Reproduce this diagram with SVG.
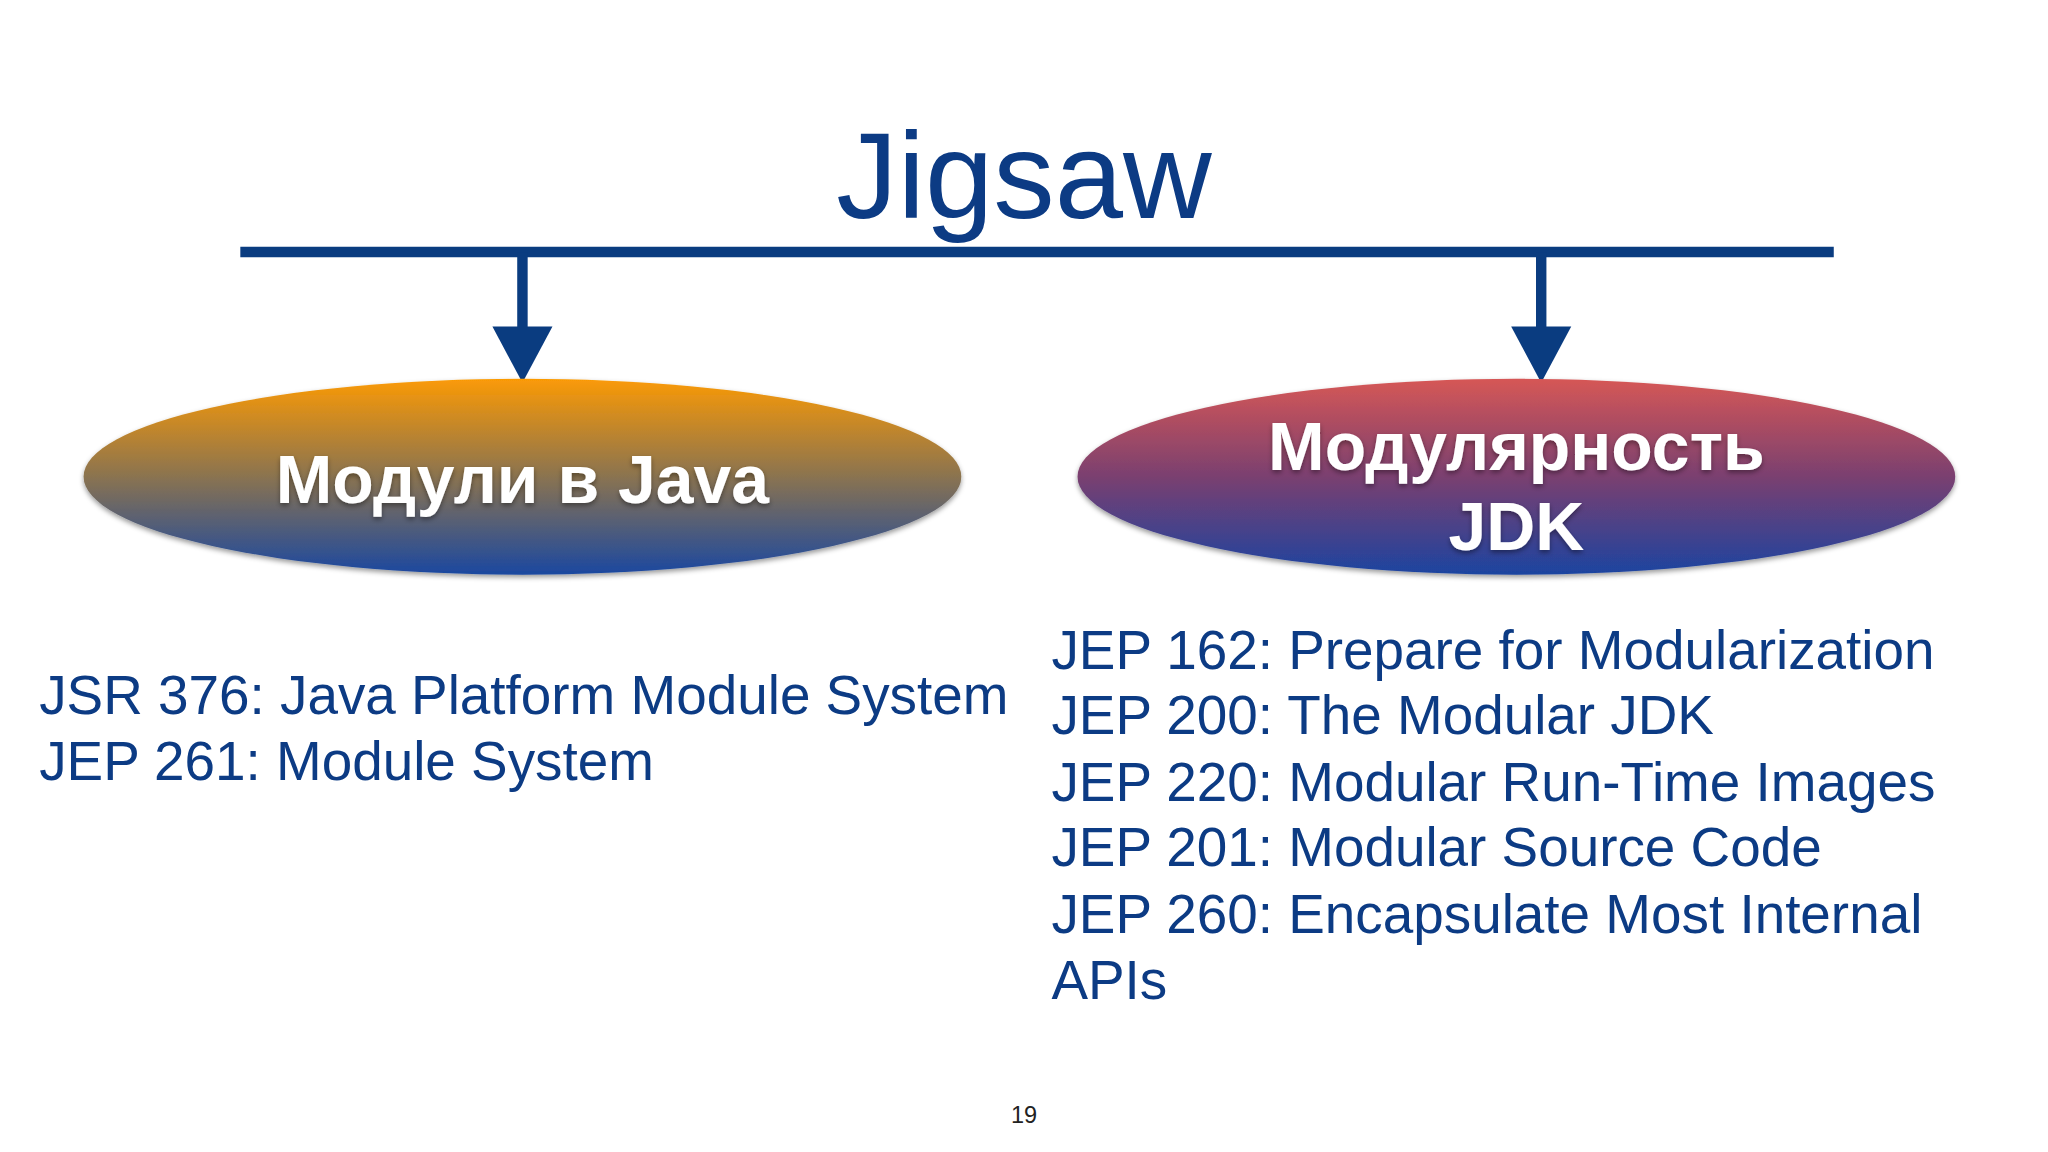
<svg xmlns="http://www.w3.org/2000/svg" width="2048" height="1152" viewBox="0 0 2048 1152">
<defs>
<linearGradient id="gL" x1="0" y1="0" x2="0" y2="1"><stop offset="0" stop-color="#fb9a05"/><stop offset="0.5" stop-color="#8a7350"/><stop offset="1" stop-color="#1b48a0"/></linearGradient>
<linearGradient id="gR" x1="0" y1="0" x2="0" y2="1"><stop offset="0" stop-color="#d65756"/><stop offset="0.5" stop-color="#7a4070"/><stop offset="1" stop-color="#1c44a0"/></linearGradient>
<filter id="sh" x="-10%" y="-10%" width="120%" height="130%"><feDropShadow dx="0" dy="2" stdDeviation="2" flood-color="#000" flood-opacity="0.4"/></filter>
<style>
.t{font-family:"Helvetica Neue","Liberation Sans",Arial,sans-serif;fill:#0c3b84;font-size:42px}
.n{font-family:"Liberation Sans",Arial,sans-serif;font-weight:bold;fill:#fff;font-size:52px;text-anchor:middle}
.ln{stroke:#0a3c80;stroke-width:8;fill:none}
</style>
</defs>
<rect width="2048" height="1152" fill="#fff"/>
<g transform="scale(1.3061)">
<text x="784" y="167" class="t" style="font-size:94px" text-anchor="middle">Jigsaw</text>
<g id="connectors">
<line class="ln" x1="184" y1="193" x2="1404" y2="193"/>
<line class="ln" x1="400" y1="193" x2="400" y2="252"/>
<polygon points="377,250 423,250 400,293" fill="#0a3c80"/>
<line class="ln" x1="1180" y1="193" x2="1180" y2="252"/>
<polygon points="1157,250 1203,250 1180,293" fill="#0a3c80"/>
</g>
<g id="n1">
<ellipse cx="400" cy="365" rx="336" ry="75" fill="url(#gL)" filter="url(#sh)"/>
<text x="400" y="385" class="n" filter="url(#sh)">Модули в Java</text>
</g>
<g id="n2">
<ellipse cx="1161" cy="365" rx="336" ry="75" fill="url(#gR)" filter="url(#sh)"/>
<text x="1161" y="360" class="n" filter="url(#sh)">Модулярность</text>
<text x="1161" y="421" class="n" filter="url(#sh)">JDK</text>
</g>
<g id="left-list">
<text x="30" y="547" class="t">JSR 376: Java Platform Module System</text>
<text x="30" y="597" class="t">JEP 261: Module System</text>
</g>
<g id="right-list">
<text x="805" y="512" class="t">JEP 162: Prepare for Modularization</text>
<text x="805" y="562" class="t">JEP 200: The Modular JDK</text>
<text x="805" y="613" class="t">JEP 220: Modular Run-Time Images</text>
<text x="805" y="663" class="t">JEP 201: Modular Source Code</text>
<text x="805" y="714" class="t">JEP 260: Encapsulate Most Internal</text>
<text x="805" y="765" class="t">APIs</text>
</g>
<text x="784" y="860" style="font-family:'Liberation Sans',sans-serif;font-size:18px;fill:#222" text-anchor="middle">19</text>
</g>
</svg>
